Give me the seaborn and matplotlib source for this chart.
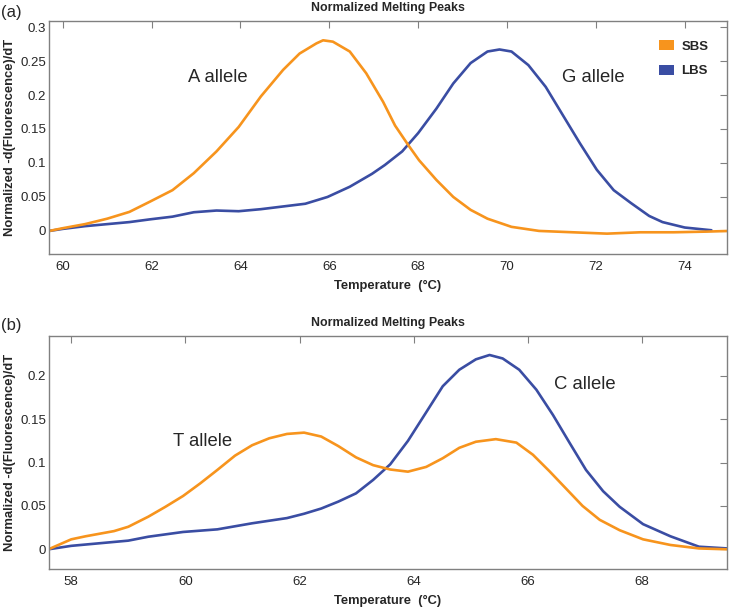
import pandas as pd
import matplotlib
matplotlib.use('Agg')
import matplotlib.pyplot as plt
import matplotlib.ticker as mticker
from matplotlib.patches import Patch
import seaborn as sns

# ---------------- données ----------------
# (a) SBS = orange, LBS = bleu
a_sbs_t = [59.7, 60.0, 60.5, 61.0, 61.5, 61.96, 62.47, 62.95, 63.46, 63.96, 64.46, 64.96, 65.33, 65.71, 65.86, 66.08,
           66.46, 66.83, 67.21, 67.48, 67.78, 68.02, 68.41, 68.79, 69.18, 69.56, 70.1, 70.72, 71.48, 72.25, 73.0,
           73.75, 74.5, 75.0]
a_sbs_y = [0.0, 0.004, 0.010, 0.018, 0.028, 0.043, 0.060, 0.085, 0.117, 0.153, 0.198, 0.237, 0.261, 0.276, 0.2805, 0.2785,
           0.264, 0.232, 0.190, 0.155, 0.126, 0.104, 0.075, 0.050, 0.031, 0.018, 0.006, 0.0, -0.002, -0.004, -0.002,
           -0.002, -0.001, 0.0]
a_lbs_t = [59.7, 60.0, 60.5, 61.0, 61.5, 61.96, 62.47, 62.95, 63.46, 63.96, 64.46, 64.96, 65.46, 65.96, 66.46, 66.96,
           67.25, 67.64, 68.0, 68.41, 68.79, 69.18, 69.56, 69.83, 70.1, 70.48, 70.87, 71.25, 71.64, 72.02, 72.4,
           72.79, 73.2, 73.5, 73.75, 74.0, 74.3, 74.6]
a_lbs_y = [0.0, 0.003, 0.007, 0.010, 0.013, 0.017, 0.021, 0.0275, 0.030, 0.029, 0.032, 0.036, 0.040, 0.050, 0.065, 0.084,
           0.097, 0.117, 0.144, 0.180, 0.217, 0.247, 0.264, 0.267, 0.264, 0.244, 0.212, 0.171, 0.129, 0.090, 0.060,
           0.041, 0.022, 0.013, 0.009, 0.005, 0.003, 0.001]

# (b)
b_sbs_t = [57.6, 58.0, 58.25, 58.5, 58.75, 59.0, 59.35, 59.65, 59.96, 60.26, 60.56, 60.87, 61.17, 61.47, 61.78, 62.08,
           62.38, 62.68, 62.99, 63.29, 63.59, 63.9, 64.22, 64.51, 64.8, 65.09, 65.44, 65.8, 66.09, 66.38, 66.67,
           66.96, 67.26, 67.61, 68.02, 68.5, 69.0, 69.5]
b_sbs_y = [0.0, 0.0115, 0.015, 0.018, 0.021, 0.026, 0.0376, 0.049, 0.0615, 0.076, 0.0915, 0.108, 0.120, 0.128, 0.133, 0.1345,
           0.130, 0.119, 0.106, 0.097, 0.092, 0.0895, 0.095, 0.105, 0.117, 0.124, 0.127, 0.123, 0.109, 0.090, 0.070,
           0.050, 0.034, 0.022, 0.0115, 0.005, 0.001, 0.0]
b_lbs_t = [57.6, 58.0, 58.5, 59.0, 59.35, 59.96, 60.56, 61.17, 61.78, 62.08, 62.38, 62.68, 62.99, 63.29, 63.59, 63.9,
           64.22, 64.51, 64.8, 65.09, 65.33, 65.56, 65.85, 66.15, 66.44, 66.73, 67.02, 67.32, 67.61, 68.02, 68.5,
           69.0, 69.5]
b_lbs_y = [0.0, 0.004, 0.007, 0.010, 0.0145, 0.020, 0.023, 0.030, 0.036, 0.041, 0.047, 0.055, 0.0645, 0.080, 0.098, 0.125,
           0.158, 0.188, 0.207, 0.219, 0.224, 0.220, 0.207, 0.184, 0.155, 0.123, 0.0915, 0.067, 0.049, 0.029, 0.015,
           0.003, 0.001]

series_names = ['SBS', 'LBS']
orange = '#F7941D'
bleu = '#3A4DA3'
palette = {'SBS': orange, 'LBS': bleu}

# ---------------- style ----------------
sns.set_style('white')
plt.rcParams['font.family'] = ['Liberation Sans', 'DejaVu Sans']

fig = plt.figure(figsize=(7.29, 6.07), dpi=100)
ax_a = fig.add_axes([0.0672, 0.5815, 0.930, 0.384])
ax_b = fig.add_axes([0.0672, 0.0626, 0.930, 0.384])


def long_df(t_sbs, y_sbs, t_lbs, y_lbs):
    d1 = pd.DataFrame({'T': t_sbs, 'y': y_sbs, 'serie': 'SBS'})
    d2 = pd.DataFrame({'T': t_lbs, 'y': y_lbs, 'serie': 'LBS'})
    return pd.concat([d2, d1], ignore_index=True)


def habiller(ax, xlim, ylim, xticks, yticks):
    ax.set_xlim(*xlim)
    ax.set_ylim(*ylim)
    ax.set_xticks(xticks)
    ax.set_yticks(yticks)
    ax.yaxis.set_major_formatter(mticker.StrMethodFormatter('{x:g}'))
    ax.tick_params(direction='in', top=True, right=True, length=5, width=0.8,
                   color='#808080', labelsize=9.5)
    ax.tick_params(axis='y', pad=2)
    ax.tick_params(axis='x', pad=5)
    for s in ax.spines.values():
        s.set_color('#808080')
        s.set_linewidth(1.0)
    ax.set_title('Normalized Melting Peaks', fontsize=8.9, fontweight='bold', pad=7)
    ax.set_xlabel('Temperature  (°C)', fontsize=9.3, fontweight='bold', labelpad=5)
    ax.set_ylabel('Normalized -d(Fluorescence)/dT', fontsize=9.4, fontweight='bold', labelpad=3)


# ---------------- panneau (a) ----------------
df_a = long_df(a_sbs_t, a_sbs_y, a_lbs_t, a_lbs_y)
sns.lineplot(data=df_a, x='T', y='y', hue='serie', palette=palette, estimator=None,
             sort=False, linewidth=1.9, ax=ax_a, legend=False)
habiller(ax_a, (59.69, 74.95), (-0.034, 0.309), [60, 62, 64, 66, 68, 70, 72, 74],
         [0, 0.05, 0.1, 0.15, 0.2, 0.25, 0.3])
ax_a.text(63.5, 0.226, 'A allele', fontsize=13.3, ha='center', va='center')
ax_a.text(71.95, 0.226, 'G allele', fontsize=13.3, ha='center', va='center')
handles = [Patch(facecolor=palette[n], edgecolor='none', label=n) for n in series_names]
leg = ax_a.legend(handles=handles, loc='upper right', bbox_to_anchor=(0.99, 0.97), frameon=False,
                  prop={'weight': 'bold', 'size': 9.5}, handlelength=1.15, handleheight=0.85,
                  handletextpad=0.55, labelspacing=0.9)

# ---------------- panneau (b) ----------------
df_b = long_df(b_sbs_t, b_sbs_y, b_lbs_t, b_lbs_y)
sns.lineplot(data=df_b, x='T', y='y', hue='serie', palette=palette, estimator=None,
             sort=False, linewidth=1.9, ax=ax_b, legend=False)
habiller(ax_b, (57.61, 69.49), (-0.0227, 0.246), [58, 60, 62, 64, 66, 68],
         [0, 0.05, 0.1, 0.15, 0.2])
ax_b.text(60.3, 0.124, 'T allele', fontsize=13.3, ha='center', va='center')
ax_b.text(67.0, 0.19, 'C allele', fontsize=13.3, ha='center', va='center')

# étiquettes (a) / (b)
fig.text(0.002, 0.979, '(a)', fontsize=12, ha='left', va='center')
fig.text(0.002, 0.463, '(b)', fontsize=12, ha='left', va='center')

fig.savefig('out.png', dpi=100)
